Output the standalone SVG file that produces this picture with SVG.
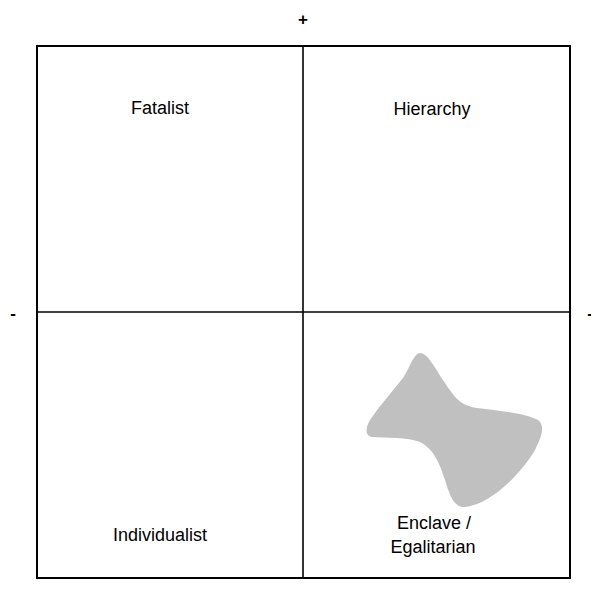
<svg xmlns="http://www.w3.org/2000/svg" width="591" height="599" viewBox="0 0 591 599">
<style>
.lbl{font-family:"Liberation Sans",Arial,sans-serif;font-size:18px;fill:#000;text-anchor:middle}
.ax{font-family:"Liberation Sans",Arial,sans-serif;font-size:17px;fill:#000;text-anchor:middle;font-weight:bold}
.ln{stroke:#000;fill:none}
</style>
<rect width="591" height="599" fill="#fff"/>
<g id="connectors">
<rect class="ln" x="37" y="46" width="533" height="532" stroke-width="2"/>
<line class="ln" x1="303" y1="46" x2="303" y2="578" stroke-width="1.6"/>
<line class="ln" x1="37" y1="312" x2="570" y2="312" stroke-width="1.6"/>
</g>
<g id="axis-labels">
<text class="ax" x="303" y="25">+</text>
<text class="ax" x="13" y="319">-</text>
<text class="ax" x="590" y="319">-</text>
<text class="ax" x="303" y="604">-</text>
</g>
<g id="fatalist"><text class="lbl" x="160" y="114">Fatalist</text></g>
<g id="hierarchy"><text class="lbl" x="432" y="115">Hierarchy</text></g>
<g id="individualist"><text class="lbl" x="160" y="541">Individualist</text></g>
<g id="enclave">
<path d="M420,353 C428,353 436,370 445,383 C455,398 460,405 477,408 C500,411 525,413 538,420 C546,426 541,438 535,450 C520,475 490,505 465,507 C455,508 450,497 445,480 C440,465 435,450 420,442 C408,437 385,438 372,437 C364,435 366,427 370,420 C380,405 392,392 403,378 C410,368 413,354 420,353 Z" fill="#c0c0c0"/>
<text class="lbl" x="434" y="529">Enclave /</text>
<text class="lbl" x="433" y="553">Egalitarian</text>
</g>
</svg>
